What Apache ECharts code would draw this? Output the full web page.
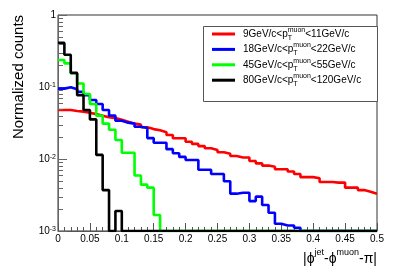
<!DOCTYPE html>
<html><head><meta charset="utf-8">
<script src="https://cdn.jsdelivr.net/npm/echarts@6/dist/echarts.min.js"></script>
<style>html,body{margin:0;padding:0;background:#fff}#c{width:407px;height:277px}</style>
</head><body><div id="c"></div>
<script>
// ---- data ----
const binWidth = 0.01;          // histogram bin width in |dphi|
const xMin = 0, xMax = 0.5;
const yMin = 0.001, yMax = 1;
const seriesKeys = ['s9', 's18', 's45', 's80'];
const ptLow = ['9', '18', '45', '80'];
const ptHigh = ['11', '22', '55', '120'];
const colors = ['#ff0000', '#0000ff', '#00ff00', '#000000'];
const yMinorTicks = [0.002,0.003,0.004,0.005,0.006,0.007,0.008,0.009,
                     0.02,0.03,0.04,0.05,0.06,0.07,0.08,0.09,
                     0.2,0.3,0.4,0.5,0.6,0.7,0.8,0.9];

const red = [0.048,0.048,0.0465,0.0455,0.044,0.042,0.040,0.038,0.037,0.035,
             0.033,0.031,0.030,0.0276,0.026,0.025,0.0235,0.0215,0.0194,0.0194,
             0.0174,0.0162,0.0151,0.0141,0.0133,0.0124,0.0118,0.0110,0.0105,0.0105,
             0.0094,0.0087,0.0081,0.0078,0.0072,0.0072,0.0067,0.0062,0.0056,0.0056,
             0.0054,0.0048,0.0048,0.0047,0.0047,0.0040,0.0040,0.0037,0.0035,0.0033];
const blue = [0.095,0.099,0.093,0.086,0.077,0.066,0.058,0.048,0.040,0.034,
              0.032,0.031,0.028,0.027,0.0195,0.0168,0.0168,0.0137,0.0120,0.0107,
              0.0097,0.0097,0.0071,0.0071,0.0062,0.0062,0.0049,0.0033,0.0034,0.0034,
              0.0026,0.0030,0.0023,0.00179,0.00126,0.00119,0.00119,0.00111,0,0,
              0,0,0,0,0,0,0,0,0,0];
const green = [0.237,0.213,0.155,0.112,0.080,0.058,0.040,0.031,0.0255,0.0184,
               0.0122,0.0122,0.0059,0.0044,0.0040,0.00167,0,0,0,0,
               0,0,0,0,0,0,0,0,0,0, 0,0,0,0,0,0,0,0,0,0, 0,0,0,0,0,0,0,0,0,0];
const black = [0.41,0.28,0.157,0.077,0.048,0.0355,0.0114,0.0037,0,0.0019,
               0,0,0,0,0,0,0,0,0,0, 0,0,0,0,0,0,0,0,0,0,
               0,0,0,0,0,0,0,0,0,0, 0,0,0,0,0,0,0,0,0,0];
const allValues = [red, blue, green, black];

// ---- build ----
const FONT = 'Liberation Sans';
function histPoints(vals) {
  const pts = vals.map((v, i) => [+(i * binWidth).toFixed(4), v > 0 ? v : yMin]);
  const last = vals[vals.length - 1];
  pts.push([+(vals.length * binWidth).toFixed(4), last > 0 ? last : yMin]);
  return pts;
}
const series = allValues.map((vals, k) => ({
  name: seriesKeys[k], type: 'line', step: 'end', showSymbol: false, symbol: 'none',
  data: histPoints(vals), lineStyle: { color: colors[k], width: 2.6 },
  itemStyle: { color: colors[k] }, animation: false, z: 3
}));
series.push({
  type: 'custom', silent: true, animation: false, clip: false, z: 5,
  data: yMinorTicks.map(v => [xMin, v]),
  renderItem: function (params, api) {
    const p = api.coord([api.value(0), api.value(1)]);
    const y = Math.round(p[1]) + 0.5;
    return { type: 'line', shape: { x1: p[0], y1: y, x2: p[0] + 5, y2: y },
             style: { stroke: '#666', lineWidth: 1 } };
  }
});

const chart = echarts.init(document.getElementById('c'), null, { renderer: 'canvas' });
chart.setOption({
  animation: false,
  backgroundColor: '#fff',
  grid: { left: 58, right: 30, top: 15, bottom: 46, show: true, borderColor: '#333', borderWidth: 1,
          containLabel: false, outerBoundsMode: 'none' },
  xAxis: {
    type: 'value', min: xMin, max: xMax, interval: 0.05,
    axisLine: { lineStyle: { color: '#555', width: 1 } },
    axisTick: { inside: true, length: 8, lineStyle: { color: '#555' } },
    minorTick: { show: true, splitNumber: 5, length: 4, lineStyle: { color: '#555' } },
    splitLine: { show: false },
    axisLabel: { margin: 3, color: '#000', fontFamily: FONT, fontSize: 10,
                 formatter: v => String(parseFloat(v.toFixed(2))) }
  },
  yAxis: {
    type: 'log', logBase: 10, min: yMin, max: yMax,
    axisLine: { lineStyle: { color: '#666', width: 1 } },
    axisTick: { inside: true, length: 9, lineStyle: { color: '#666' } },
    splitLine: { show: false },
    axisLabel: {
      margin: 2, color: '#000', fontFamily: FONT, fontSize: 10,
      formatter: function (v) {
        const e = Math.round(Math.log10(v));
        if (e === 0) return '{b|1}';
        return '{b|10}{s|' + e + '}';
      },
      rich: {
        b: { fontFamily: FONT, fontSize: 10, lineHeight: 10, verticalAlign: 'bottom', color: '#000' },
        s: { fontFamily: FONT, fontSize: 7, lineHeight: 7, verticalAlign: 'top', color: '#000', padding: [0, 0, 7, 0] }
      }
    }
  },
  legend: {
    orient: 'vertical', left: 212, top: 26.5, padding: 0, itemGap: 0.4,
    itemWidth: 23, itemHeight: 3, icon: 'rect', selectedMode: false,
    data: seriesKeys,
    formatter: function (name) {
      const i = seriesKeys.indexOf(name);
      return ptLow[i] + 'GeV/c<p{t|T}{m|muon}<' + ptHigh[i] + 'GeV/c';
    },
    textStyle: {
      fontFamily: FONT, fontSize: 10, color: '#000', lineHeight: 15, padding: [0, 0, 0, 3],
      rich: {
        t: { fontFamily: FONT, fontSize: 7, lineHeight: 8, verticalAlign: 'bottom', width: 0, color: '#000' },
        m: { fontFamily: FONT, fontSize: 7, lineHeight: 8, verticalAlign: 'top', color: '#000' }
      }
    }
  },
  graphic: [
    { type: 'rect', z: 1, shape: { x: 203.5, y: 26.5, width: 174, height: 75 },
      style: { fill: '#fff', stroke: '#555', lineWidth: 1 } },
    { type: 'text', x: 19, y: 77, rotation: Math.PI / 2, z: 10,
      style: { text: 'Normalized counts', font: '15px ' + FONT, fill: '#000', align: 'center', verticalAlign: 'middle' } },
    { type: 'text', x: 377, y: 257, z: 10,
      style: { text: '{a||\u03D5}{s|jet}{a|-\u03D5}{s|muon}{a|-π|}', align: 'right', verticalAlign: 'middle',
               rich: {
                 a: { fontFamily: FONT, fontSize: 14, lineHeight: 18, verticalAlign: 'bottom', fill: '#000' },
                 s: { fontFamily: FONT, fontSize: 9, lineHeight: 9, verticalAlign: 'top', fill: '#000' }
               } } }
  ],
  series: series
});
</script>
</body></html>
